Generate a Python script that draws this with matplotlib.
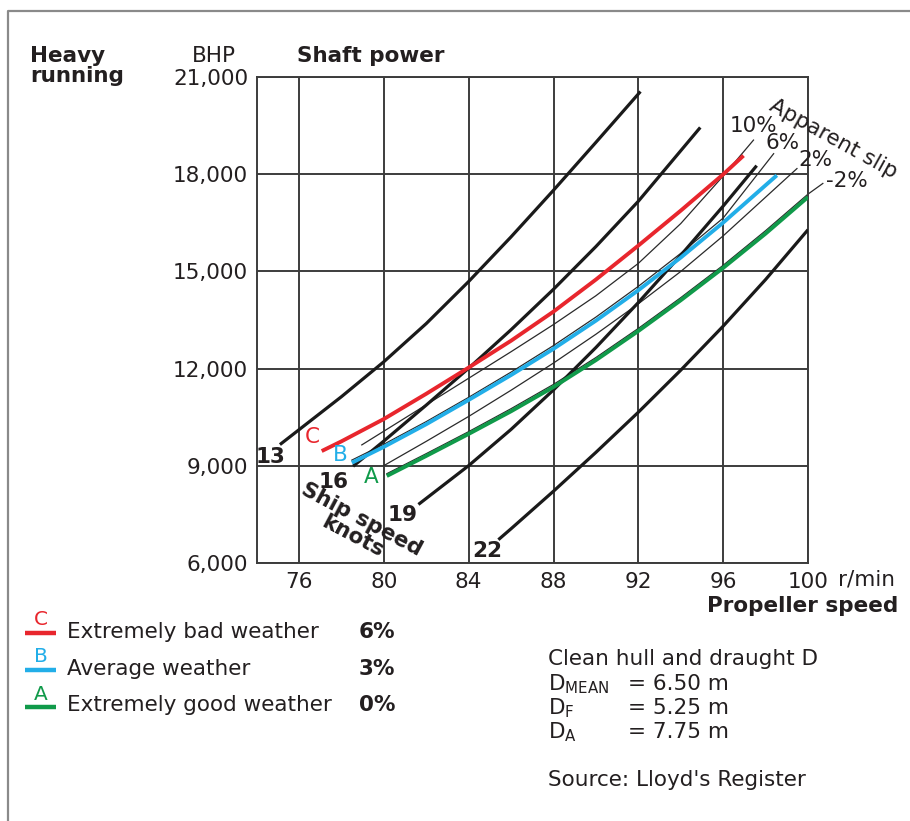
import matplotlib.pyplot as plt
from matplotlib.lines import Line2D

W, H = 910, 821

# propeller speed (r/min) and shaft power (BHP)
# ship speed lines, knots
knots_13_rpm = [75.1, 78.0, 80.0, 82.0, 84.0, 86.0, 88.0, 90.0, 92.1]
knots_13_bhp = [9650, 11130, 12210, 13390, 14690, 16070, 17510, 18990, 20560]
knots_16_rpm = [78.55, 80.0, 82.0, 84.0, 86.0, 88.0, 90.0, 92.0, 94.92]
knots_16_bhp = [8980, 9760, 10870, 12010, 13200, 14450, 15770, 17170, 19450]
knots_19_rpm = [81.63, 84.0, 86.0, 88.0, 90.0, 92.0, 94.0, 96.0, 97.58]
knots_19_bhp = [7800, 9000, 10120, 11340, 12650, 14040, 15500, 17020, 18270]
knots_22_rpm = [85.4, 86.0, 88.0, 90.0, 92.0, 94.0, 96.0, 98.0, 100.0]
knots_22_bhp = [6710, 7050, 8210, 9410, 10650, 11950, 13310, 14750, 16290]

# weather curves
c_rpm = [77.07, 78.0, 80.0, 82.0, 84.0, 86.0, 88.0, 90.0, 92.0, 94.0, 96.0, 96.96]
c_bhp = [9450, 9750, 10440, 11220, 12030, 12860, 13760, 14750, 15800, 16880, 18000, 18580]
b_rpm = [78.49, 80.0, 82.0, 84.0, 86.0, 88.0, 90.0, 92.0, 94.0, 96.0, 98.53]
b_bhp = [9090, 9580, 10280, 11030, 11800, 12610, 13480, 14420, 15430, 16510, 17970]
a_rpm = [80.14, 82.0, 84.0, 86.0, 88.0, 90.0, 92.0, 94.0, 96.0, 98.0, 100.0]
a_bhp = [8680, 9300, 9980, 10680, 11430, 12260, 13160, 14110, 15110, 16170, 17300]

# apparent slip lines (thin); the last point is the end of the leader to the label
slip10_rpm = [78.96, 82.0, 84.0, 86.0, 88.0, 90.0, 92.0, 94.0, 96.0, 97.43]
slip10_bhp = [9640, 10880, 11700, 12520, 13360, 14250, 15250, 16480, 17950, 19060]
slip6_rpm = [78.49, 80.0, 82.0, 84.0, 86.0, 88.0, 90.0, 92.0, 94.0, 96.0, 98.38]
slip6_bhp = [9170, 9660, 10360, 11110, 11890, 12710, 13590, 14540, 15560, 16650, 18640]
slip2_rpm = [80.0, 82.0, 84.0, 86.0, 88.0, 90.0, 92.0, 94.0, 96.0, 99.48]
slip2_bhp = [9000, 9750, 10520, 11330, 12170, 13060, 14000, 15000, 16100, 18180]
slipm2_rpm = [80.14, 82.0, 84.0, 86.0, 88.0, 90.0, 92.0, 94.0, 96.0, 98.0, 100.0, 100.7]
slipm2_bhp = [8750, 9370, 10050, 10760, 11510, 12340, 13240, 14190, 15190, 16260, 17390, 17720]

x_ticks = [76, 80, 84, 88, 92, 96, 100]
y_ticks = [6000, 9000, 12000, 15000, 18000, 21000]
y_labels = ['6,000', '9,000', '12,000', '15,000', '18,000', '21,000']

RED = '#e8262d'
BLUE = '#22aee8'
GREEN = '#109a4a'
INK = '#231f20'
GRID = '#3c3c3c'

plt.rcParams['font.family'] = ['DejaVu Sans']
FS = 15.5


def fx(x):
    return x / W


def fy(y):
    return 1 - y / H


fig = plt.figure(figsize=(W / 100, H / 100), dpi=100)
fig.patch.set_facecolor('white')

# outer frame (left and top edge visible)
fig.add_artist(Line2D([fx(8), fx(8), fx(915)], [fy(830), fy(11), fy(11)],
                      color='#8a8a8a', lw=1.6))

ax = fig.add_axes([fx(256.6), fy(562.7), fx(808) - fx(256.6), fy(77.3) - fy(562.7)])
ax.set_xlim(74, 100)
ax.set_ylim(6000, 21000)
ax.set_xticks(x_ticks)
ax.set_xticklabels([str(t) for t in x_ticks], fontsize=FS, color=INK)
ax.set_yticks(y_ticks)
ax.set_yticklabels(y_labels, fontsize=FS, color=INK)
ax.tick_params(length=0, pad=6)
ax.tick_params(axis='x', pad=7)
for s in ax.spines.values():
    s.set_color(GRID)
    s.set_linewidth(1.4)
ax.grid(True, color=GRID, lw=1.4, zorder=0.5)
ax.set_axisbelow(True)

# thin apparent slip lines
for xs, ys in [(slip10_rpm, slip10_bhp), (slip6_rpm, slip6_bhp),
               (slip2_rpm, slip2_bhp), (slipm2_rpm, slipm2_bhp)]:
    ax.plot(xs, ys, color='#2a2a2a', lw=0.9, zorder=2, clip_on=False)

# ship speed lines
for xs, ys in [(knots_13_rpm, knots_13_bhp), (knots_16_rpm, knots_16_bhp),
               (knots_19_rpm, knots_19_bhp), (knots_22_rpm, knots_22_bhp)]:
    ax.plot(xs, ys, color='#1a1a1a', lw=2.3, zorder=3, solid_capstyle='butt')

# weather curves
ax.plot(c_rpm, c_bhp, color=RED, lw=2.8, zorder=4, solid_capstyle='butt')
ax.plot(b_rpm, b_bhp, color=BLUE, lw=2.8, zorder=4, solid_capstyle='butt')
ax.plot(a_rpm, a_bhp, color=GREEN, lw=2.8, zorder=4, solid_capstyle='butt')


def txt(x, y, s, **kw):
    kw.setdefault('fontsize', FS)
    kw.setdefault('color', INK)
    kw.setdefault('va', 'center')
    fig.text(fx(x), fy(y), s, **kw)


# headings
txt(30, 62, 'Heavy', weight='bold', va='baseline')
txt(30, 82, 'running', weight='bold', va='baseline')
txt(214, 62, 'BHP', ha='center', va='baseline')
txt(297, 62, 'Shaft power', weight='bold', va='baseline')
txt(838, 579, 'r/min')
txt(898, 606, 'Propeller speed', weight='bold', ha='right')

# ship speed labels
txt(270, 457, '13', weight='bold', ha='center')
txt(334, 482, '16', weight='bold', ha='center')
txt(403, 515, '19', weight='bold', ha='center')
txt(487, 551, '22', weight='bold', ha='center')
txt(357, 528, 'Ship speed\nknots', weight='bold', ha='center', rotation=-28,
    rotation_mode='anchor', linespacing=1.0)

# curve letters
txt(312, 437, 'C', color=RED, ha='center')
txt(340, 455, 'B', color=BLUE, ha='center')
txt(371, 477, 'A', color=GREEN, ha='center')

# slip labels
txt(754, 126, '10%', ha='center')
txt(783, 143, '6%', ha='center')
txt(815, 160, '2%', ha='center')
txt(847, 181, '-2%', ha='center')
txt(833, 139, 'Apparent slip', ha='center', rotation=-29, rotation_mode='anchor')

# legend
legend_rows = [('C', RED, 'Extremely bad weather', '6%', 619, 633, 632),
               ('B', BLUE, 'Average weather', '3%', 656, 670, 669),
               ('A', GREEN, 'Extremely good weather', '0%', 694, 707, 705)]
for letter, col, label, pct, ly, lline, ty in legend_rows:
    txt(41, ly, letter, color=col, ha='center', fontsize=14.5)
    fig.add_artist(Line2D([fx(25), fx(56)], [fy(lline), fy(lline)], color=col, lw=3.2,
                          solid_capstyle='butt'))
    txt(67, ty, label)
    txt(395, ty, pct, weight='bold', ha='right')

# hull notes
txt(548, 659, 'Clean hull and draught D')
txt(548, 684, r'D$_\mathregular{MEAN}$')
txt(548, 708, r'D$_\mathregular{F}$')
txt(548, 732, r'D$_\mathregular{A}$')
txt(628, 684, '= 6.50 m')
txt(628, 708, '= 5.25 m')
txt(628, 732, '= 7.75 m')
txt(548, 780, "Source: Lloyd's Register")

fig.savefig('out.png', dpi=100)
